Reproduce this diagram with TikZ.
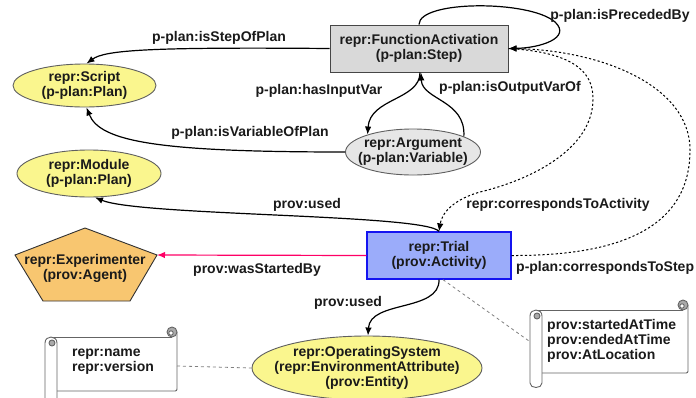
\documentclass[tikz,border=0pt]{standalone}
\usepackage{fontspec}
\setmainfont{Liberation Sans}
\usetikzlibrary{shapes.geometric,arrows.meta}
\definecolor{yel}{RGB}{250,246,142}
\definecolor{fagray}{RGB}{217,217,217}
\definecolor{fabord}{RGB}{70,70,70}
\definecolor{argray}{RGB}{230,230,230}
\definecolor{bord}{RGB}{95,95,95}
\definecolor{trialfill}{RGB}{155,172,250}
\definecolor{trialbord}{RGB}{20,20,240}
\definecolor{expfill}{RGB}{248,198,112}
\definecolor{expbord}{RGB}{50,50,50}
\definecolor{pinkc}{RGB}{255,0,102}
\definecolor{txt}{RGB}{26,26,26}
\definecolor{scrollc}{RGB}{100,100,100}
\definecolor{curlgray}{RGB}{170,170,170}
\tikzset{
  scrollst/.style={draw=scrollc, line width=0.9pt},
  ell/.style={ellipse, draw=bord, line width=0.9pt, inner sep=0pt},
  rectbox/.style={rectangle, line width=1pt, inner sep=0pt, align=center},
  lbl/.style={inner sep=0pt, align=center},
  edge/.style={line width=1.2pt, -{Latex[length=8pt,width=6.5pt]}},
  dotedge/.style={edge, line width=1pt, dash pattern=on 2.2pt off 2.2pt},
  noteline/.style={draw=gray, line width=0.8pt, dash pattern=on 3pt off 3pt},
}
\newcommand\drawscroll[5]{%
  \fill[white] (#1+6,#2) rectangle (#3,#4);
  \draw[scrollst] (#1+6,#2) -- (#3-5,#2);
  \draw[scrollst] (#3,#2-5) -- (#3,#4-4) .. controls (#3,#4) .. (#3-4,#4) -- (#1+12,#4);
  \draw[scrollst, fill=curlgray] (#3-5,#2-5) circle[radius=5pt];
  \draw[scrollst, fill=white] (#3-6,#2-4) circle[radius=2.2pt];
  \draw[scrollst, fill=white] (#1,#2+6) -- (#1,#5-5) .. controls (#1,#5+1) and (#1+12,#5+1) .. (#1+12,#5-5) -- (#1+12,#2+6) .. controls (#1+12,#2-2) and (#1,#2-2) .. cycle;
  \draw[scrollst, fill=curlgray] (#1+7,#2+6) circle[radius=3pt];
}
\begin{document}
\begin{tikzpicture}[x=1pt,y=-1pt,font=\fontsize{14}{15}\selectfont\bfseries,text=txt]
\fill[white] (0,0) rectangle (696,397);
\useasboundingbox (0,0) rectangle (696,397);

% scrolls (notes)
\drawscroll{45}{337}{177}{391}{412}
\drawscroll{530}{310}{688}{373}{388}
\node[lbl, align=left, anchor=west] (note1) at (72,361.5) {repr:name\\repr:version};
\node[lbl, align=left, anchor=west] (note2) at (547,341) {prov:startedAtTime\\prov:endedAtTime\\prov:AtLocation};
\coordinate (n1out) at (177,366);
\coordinate (n2in) at (529,341);

% main nodes
\node[rectbox, fill=fagray, draw=fabord, minimum width=178pt, minimum height=47pt] (fa) at (419,48.5) {repr:FunctionActivation\\(p-plan:Step)};
\node[ell, fill=yel, minimum width=143pt, minimum height=43pt] (script) at (84.5,85.5) {};
\node[lbl] (script-t) at (script) {repr:Script\\(p-plan:Plan)};
\node[ell, fill=yel, minimum width=144pt, minimum height=47pt] (module) at (89,173.5) {};
\node[lbl] (module-t) at (module) {repr:Module\\(p-plan:Plan)};
\node[ell, fill=argray, minimum width=135pt, minimum height=46pt] (argument) at (413,152) {};
\node[lbl] (argument-t) at (argument) {repr:Argument\\(p-plan:Variable)};
\node[rectbox, fill=trialfill, draw=trialbord, line width=1.3pt, minimum width=144pt, minimum height=47pt] (trial) at (439,255.5) {repr:Trial\\(prov:Activity)};
\node[ell, fill=yel, minimum width=230pt, minimum height=64pt] (os) at (367,368) {};
\node[lbl] (os-t) at (os) {repr:OperatingSystem\\(repr:EnvironmentAttribute)\\(prov:Entity)};
\draw[fill=expfill, draw=expbord, line width=0.9pt] (85,228) -- (157,255) -- (130,301) -- (43,301) -- (15,255) -- cycle;
\coordinate (expR) at (157,255);
\node[lbl] (exp) at (85,268) {repr:Experimenter\\(prov:Agent)};

% connectors
\draw[edge] (fa.west) .. controls (150,47) and (105,50) .. ([xshift=2pt]script.north);
\draw[edge] (fa.north) .. controls (419,0) and (530,0) .. (555,22) .. controls (572,38) and (540,48) .. (fa.east);
\draw[edge] ([xshift=1pt]fa.south) .. controls (420,100) and (370,98) .. (argument.159);
\draw[edge] (argument.17) .. controls (466,100) and (422,100) .. ([xshift=2pt]fa.south);
\draw[edge] (argument.west) .. controls (160,152) and (100,142) .. ([xshift=2pt]script.south);
\draw[edge] (trial.north) .. controls (425,214) and (140,216) .. ([xshift=6pt]module.south);
\draw[dotedge] (fa.east) .. controls (570,52) and (594,70) .. (593,100) .. controls (592,150) and (530,180) .. (480,192) .. controls (455,199) and (442,212) .. (trial.north);
\draw[dotedge] (trial.east) .. controls (625,256) and (690,225) .. (690,150) .. controls (690,85) and (600,50) .. (fa.east);
\draw[edge, color=pinkc] (trial.west) -- (expR);
\draw[edge] (trial.south) .. controls (440,312) and (370,300) .. ([xshift=1pt]os.north);
\draw[noteline] ([xshift=4pt]trial.south) -- (n2in);
\draw[noteline] (n1out) -- (os.west);

% labels
\node[lbl] (l1) at (219,38) {p-plan:isStepOfPlan};
\node[lbl] (l2) at (620,16) {p-plan:isPrecededBy};
\node[lbl] (l3) at (319,91) {p-plan:hasInputVar};
\node[lbl] (l4) at (510,88) {p-plan:isOutputVarOf};
\node[lbl] (l5) at (250,133) {p-plan:isVariableOfPlan};
\node[lbl] (l6) at (307,205) {prov:used};
\node[lbl] (l7) at (558,205) {repr:correspondsToActivity};
\node[lbl, anchor=west] (l8) at (516,268) {p-plan:correspondsToStep};
\node[lbl] (l9) at (257,270) {prov:wasStartedBy};
\node[lbl] (l10) at (348,303) {prov:used};
\end{tikzpicture}
\end{document}
